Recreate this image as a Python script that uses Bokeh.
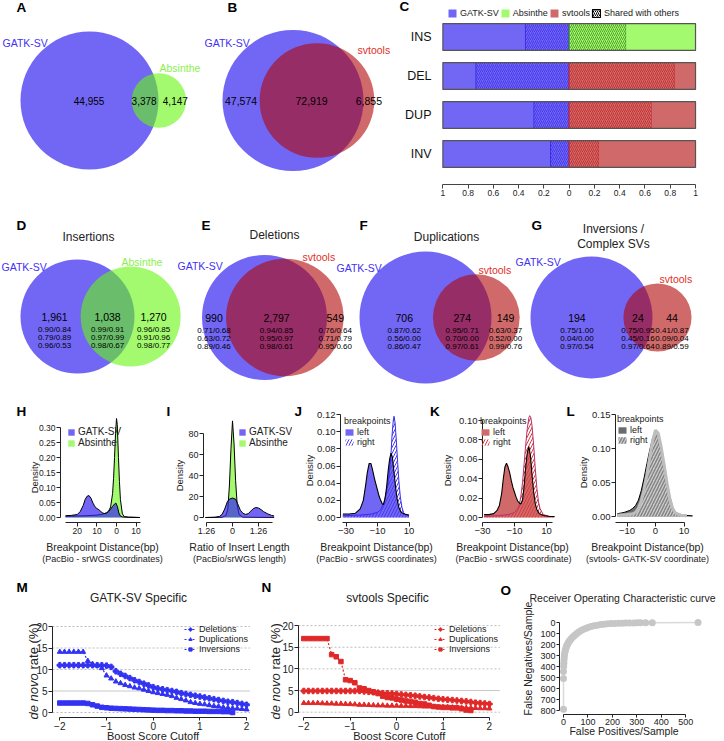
import math
from bokeh.plotting import figure
from bokeh.models import (Range1d, Label, Legend, LegendItem, FixedTicker,
                          CustomJSTickFormatter, NumeralTickFormatter)
from bokeh.layouts import column, row
from bokeh.embed import file_html
from bokeh.resources import INLINE
from bokeh.core.properties import value

FONT = "Liberation Sans"
S = 1.0

# ======================= DATA =======================
# Venn counts: [first caller only, shared, second caller only]
venn_a = [44955, 3378, 4147]      # GATK-SV vs Absinthe
venn_b = [47574, 72919, 6855]     # GATK-SV vs svtools
venn_d = [1961, 1038, 1270]       # Insertions
venn_e = [990, 2797, 549]         # Deletions
venn_f = [706, 274, 149]          # Duplications
venn_g = [194, 24, 44]            # Inversions / Complex SVs
stats_d = [["0.90/0.84", "0.79/0.89", "0.96/0.53"], ["0.99/0.91", "0.97/0.99", "0.98/0.67"], ["0.96/0.85", "0.91/0.96", "0.98/0.77"]]
stats_e = [["0.71/0.68", "0.63/0.72", "0.89/0.46"], ["0.94/0.85", "0.95/0.97", "0.98/0.61"], ["0.76/0.64", "0.71/0.79", "0.95/0.60"]]
stats_f = [["0.87/0.62", "0.56/0.00", "0.86/0.47"], ["0.95/0.71", "0.70/0.00", "0.97/0.61"], ["0.63/0.37", "0.52/0.00", "0.99/0.76"]]
stats_g = [["0.75/1.00", "0.04/0.00", "0.97/0.54"], ["0.75/0.95", "0.45/0.16", "0.97/0.64"], ["0.41/0.87", "0.09/0.04", "0.89/0.59"]]

svtypes = ["INS", "DEL", "DUP", "INV"]
other_caller = ["Absinthe", "svtools", "svtools", "svtools"]
gatk_shared_frac = [0.346, 0.739, 0.280, 0.148]
other_shared_frac = [0.451, 0.836, 0.652, 0.237]
bar_ticks = [-1.0, -0.8, -0.6, -0.4, -0.2, 0.0, 0.2, 0.4, 0.6, 0.8, 1.0]

# H: breakpoint distance densities
h_gatk_x = [-26, -23, -20, -18.5, -17, -16, -15, -14, -13, -12, -11, -10, -9, -8, -7, -6, -5, -4, -3, -2, -1, -0.3, 0.5, 1.2, 2, 3, 6, 12]
h_gatk_y = [0.006, 0.007, 0.010, 0.020, 0.040, 0.060, 0.071, 0.073, 0.064, 0.048, 0.036, 0.030, 0.026, 0.020, 0.015, 0.013, 0.015, 0.020, 0.028, 0.037, 0.045, 0.048, 0.036, 0.015, 0.005, 0.002, 0.001, 0.0]
h_abs_x = [-26, -20, -15, -10, -7, -5, -4, -3, -2, -1.5, -1, -0.5, 0, 0.4, 1, 1.5, 2, 3, 4, 6, 12]
h_abs_y = [0.004, 0.005, 0.006, 0.008, 0.011, 0.016, 0.022, 0.035, 0.08, 0.13, 0.2, 0.28, 0.33, 0.31, 0.2, 0.12, 0.06, 0.012, 0.003, 0.001, 0.0]
# I: ratio of insert length
i_gatk_x = [-1.04, -0.7, -0.5, -0.4, -0.3, -0.2, -0.12, 0, 0.12, 0.2, 0.3, 0.4, 0.5, 0.6, 0.7, 0.8, 0.9, 1.0, 1.1, 1.2, 1.35, 1.5, 1.6]
i_gatk_y = [0, 0.2, 1, 3, 8, 15, 17.5, 18.5, 17.5, 13, 7, 4, 3, 3.5, 6, 8.5, 9.5, 9, 7.5, 5.5, 3.5, 2, 1.5]
i_abs_x = [-1.04, -0.4, -0.25, -0.18, -0.12, -0.06, 0, 0.06, 0.12, 0.18, 0.25, 0.4, 1.6]
i_abs_y = [0, 0.2, 2, 8, 30, 65, 92, 70, 35, 12, 3, 0.3, 0]
i_ticks = [-1, 0, 1]
i_tick_labels = ["1.26", "0", "1.26"]
# J: GATK-SV breakpoints
j_left_x = [-32, -28, -24, -21, -19, -17.5, -16.5, -15.3, -14.2, -13.2, -12, -11, -10, -9, -8, -7, -6.2, -5.2, -4.2, -3.2, -2.3, -1.4, -0.5, 0.5, 1.5, 2.5, 3.5, 5, 7, 10]
j_left_y = [0.004, 0.004, 0.005, 0.010, 0.020, 0.038, 0.052, 0.063, 0.063, 0.056, 0.046, 0.039, 0.032, 0.025, 0.020, 0.016, 0.015, 0.022, 0.036, 0.055, 0.068, 0.075, 0.070, 0.052, 0.035, 0.021, 0.012, 0.006, 0.004, 0.003]
j_right_x = [-32, -20, -14, -10, -8, -6, -4.5, -3.5, -2.5, -1.5, -0.8, 0, 0.5, 1.2, 2, 2.8, 3.6, 4.5, 5.5, 6.5, 8, 10]
j_right_y = [0.002, 0.003, 0.004, 0.006, 0.009, 0.017, 0.028, 0.038, 0.052, 0.072, 0.095, 0.113, 0.118, 0.110, 0.088, 0.064, 0.042, 0.024, 0.012, 0.006, 0.003, 0.002]
# K: svtools breakpoints
k_left_x = [-29, -26, -23, -21, -19.5, -18, -17, -16, -15, -14, -13, -12, -11, -10, -9, -8, -7, -6, -5, -4, -3, -2, -1, 0, 1, 2, 3, 4, 5.5, 8, 12, 15]
k_left_y = [0.003, 0.003, 0.004, 0.007, 0.012, 0.025, 0.040, 0.052, 0.056, 0.052, 0.046, 0.038, 0.031, 0.026, 0.021, 0.017, 0.015, 0.014, 0.018, 0.032, 0.052, 0.067, 0.073, 0.063, 0.043, 0.026, 0.014, 0.008, 0.004, 0.002, 0.001, 0.001]
k_right_x = [-29, -20, -14, -10, -8, -7, -6, -5, -4, -3, -2, -1, -0.5, 0.2, 1, 2, 3, 4, 5, 6, 8, 12, 15]
k_right_y = [0.001, 0.002, 0.003, 0.005, 0.009, 0.013, 0.022, 0.036, 0.055, 0.075, 0.092, 0.103, 0.105, 0.103, 0.094, 0.074, 0.050, 0.030, 0.016, 0.009, 0.003, 0.001, 0.001]
# L: svtools vs GATK-SV breakpoints
l_left_x = [-13.4, -11, -9, -8, -7, -6, -5, -4, -3, -2, -1, 0, 1, 2, 3, 4, 5, 6, 7, 9, 13]
l_left_y = [0.004, 0.006, 0.009, 0.012, 0.016, 0.024, 0.038, 0.057, 0.078, 0.098, 0.115, 0.122, 0.118, 0.100, 0.078, 0.052, 0.030, 0.014, 0.006, 0.002, 0.001]
l_right_x = [-13.4, -10, -8, -7, -6, -5, -4, -3, -2, -1, 0, 1, 2, 3, 4, 5, 6, 7, 9, 11]
l_right_y = [0.002, 0.003, 0.004, 0.006, 0.012, 0.023, 0.040, 0.062, 0.088, 0.112, 0.127, 0.122, 0.102, 0.077, 0.050, 0.027, 0.012, 0.005, 0.002, 0.001]

# M / N: de novo rate vs boost score cutoff
cutoffs = [-2.0, -1.9, -1.8, -1.7, -1.6, -1.5, -1.4, -1.3, -1.2, -1.1, -1.0, -0.9, -0.8, -0.7, -0.6, -0.5, -0.4, -0.3, -0.2, -0.1,
           0.0, 0.1, 0.2, 0.3, 0.4, 0.5, 0.6, 0.7, 0.8, 0.9, 1.0, 1.1, 1.2, 1.3, 1.4, 1.5, 1.6, 1.7, 1.8, 1.9, 2.0]
nan = float("nan")
m_del = [11.0, 11.0, 11.0, 11.0, 11.0, 11.0, 11.0, 11.0, 11.0, 11.0, 10.9, 10.6, 9.6, 9.0, 8.5, 8.0, 7.5, 7.1, 6.7, 6.3,
         5.9, 5.6, 5.4, 5.2, 5.0, 4.8, 4.5, 4.3, 4.1, 3.9, 3.7, 3.5, 3.3, 3.1, 2.9, 2.7, 2.5, 2.4, 2.2, 2.0, 1.8]
m_dup = [14.1, 14.1, 14.1, 14.1, 14.1, 14.1, 12.0, 11.3, 10.9, 10.3, 8.6, 7.9, 7.2, 6.8, 6.4, 6.1, 5.8, 5.6, 5.3, 5.0,
         4.7, 4.5, 4.3, 4.1, 3.8, 3.4, 3.1, 2.8, 2.4, 2.2, 2.0, 1.9, 1.7, 1.5, 1.4, 1.2, 1.1, 1.0, 0.9, 0.8, 0.7]
m_inv = [2.2, 2.2, 2.2, 2.2, 2.2, 2.2, 2.1, 1.8, 1.5, 1.2, 1.1, 1.0, 0.95, 0.9, 0.85, 0.8, 0.75, 0.7, 0.65, 0.6,
         0.55, 0.5, 0.5, 0.45, 0.45, 0.4, 0.4, 0.35, 0.35, 0.3, 0.3, 0.3, 0.25, 0.25, 0.25, 0.2, 0.2, 0.0, nan, nan, nan]
n_del = [4.9, 4.9, 4.9, 4.9, 4.9, 4.9, 4.9, 4.9, 4.9, 4.9, 4.9, 4.9, 4.9, 4.8, 4.7, 4.6, 4.5, 4.4, 4.35, 4.3,
         4.2, 4.1, 4.0, 3.9, 3.8, 3.65, 3.5, 3.4, 3.25, 3.1, 3.0, 2.9, 2.8, 2.7, 2.6, 2.5, 2.35, 2.2, 2.1, 2.0, 1.9]
n_dup = [2.1, 2.1, 2.1, 2.1, 2.05, 2.0, 2.0, 1.95, 1.95, 1.9, 1.85, 1.8, 1.7, 1.7, 1.65, 1.6, 1.55, 1.55, 1.5, 1.5,
         1.5, 1.45, 1.45, 1.4, 1.4, 1.35, 1.3, 1.3, 1.25, 1.2, 1.2, 1.15, 1.1, 1.1, 1.05, 1.0, 1.0, 0.95, 0.9, 0.9, 0.85]
n_inv = [17.0, 17.0, 17.0, 17.0, 17.0, 17.0, 13.3, 12.8, 11.7, 7.5, 7.3, 6.8, 5.6, 5.4, 5.0, 4.7, 4.3, 3.7, 3.4, 3.3,
         3.0, 2.8, 2.6, 2.5, 2.3, 2.0, 1.9, 1.6, 1.3, 1.2, 1.1, 1.1, 1.0, 1.0, 0.8, 0.5, 0.4, nan, nan, nan, nan]
rate_series = ["Deletions", "Duplications", "Inversions"]
rate_yticks = [0, 5, 10, 15, 20]

# O: ROC curve
roc_fp = [0, 0, 0, 0.7, 1.4, 2, 3, 4, 5.5, 7, 9, 11, 13, 15, 18, 21, 25, 29, 34, 40, 46, 53, 61, 70, 80, 90, 100, 112,
          125, 138, 152, 166, 180, 195, 210, 225, 240, 255, 270, 288, 302, 315, 336, 363, 550]
roc_fn = [788, 510, 445, 400, 370, 340, 315, 292, 272, 255, 240, 226, 214, 203, 190, 178, 165, 155, 142, 128, 115, 102, 89, 76,
          64, 54, 45, 36, 29, 24, 19, 15, 12, 9.5, 8, 7, 6, 5, 4.5, 3.5, 3, 2.5, 2, 2, 1]

# ======================= STYLE =======================
BLUE = "#7266F5"; BLUE_DK = "#3B2EEA"; BLUE_TXT = "#4232F2"; BLUE_BASE = "#3624F1"
GREEN = "#A3FA6E"; GREEN_DK = "#3E8E1C"; GREEN_TXT = "#8EEE50"; GREEN_BASE = "#66F70D"
RED = "#D06A6A"; RED_DK = "#C42424"; RED_TXT = "#E0302A"; RED_BASE = "#B10707"
M_BLUE = "#3232F2"; N_RED = "#E02828"


def clean(p):
    p.toolbar_location = None
    p.outline_line_color = None
    p.background_fill_color = "white"
    p.border_fill_color = "white"
    p.grid.visible = False


def txt(p, xs, ys, texts, size, color="black", align="center", style="normal"):
    p.text(x=xs, y=ys, text=texts, text_font=value(FONT), text_font_size=size,
           text_color=color, text_align=align, text_baseline="middle", text_font_style=style)


def lens_area(r1, r2, d):
    if d >= r1 + r2:
        return 0.0
    if d <= abs(r1 - r2):
        return math.pi * min(r1, r2) ** 2
    a = r1 * r1 * math.acos((d * d + r1 * r1 - r2 * r2) / (2 * d * r1))
    b = r2 * r2 * math.acos((d * d + r2 * r2 - r1 * r1) / (2 * d * r2))
    c = 0.5 * math.sqrt((-d + r1 + r2) * (d + r1 - r2) * (d - r1 + r2) * (d + r1 + r2))
    return a + b - c


def solve_d(r1, r2, target):
    lo, hi = abs(r1 - r2) + 1e-9, r1 + r2
    for _ in range(80):
        mid = (lo + hi) / 2
        if lens_area(r1, r2, mid) > target:
            lo = mid
        else:
            hi = mid
    return (lo + hi) / 2


def draw_venn(p, counts, cx, cy, r1, top_fill, stats=None, nudge=(0.0, 0.0, 0.0), size="10.5px"):
    only1, both, only2 = counts
    n1 = only1 + both
    n2 = both + only2
    r2 = r1 * math.sqrt(n2 / n1)
    d = solve_d(r1, r2, both / n1 * math.pi * r1 * r1)
    cx2 = cx + d
    p.circle(x=[cx], y=[cy], radius=r1, fill_color=BLUE, line_color=None)
    p.circle(x=[cx2], y=[cy], radius=r2, fill_color=top_fill, fill_alpha=0.6, line_color=None)
    xs = [((cx - r1) + (cx2 - r2)) / 2, ((cx2 - r2) + (cx + r1)) / 2, ((cx + r1) + (cx2 + r2)) / 2]
    xs = [xs[k] + nudge[k] for k in range(3)]
    txt(p, xs, [cy] * 3, [f"{c:,}" for c in counts], size)
    if stats:
        for k in range(3):
            txt(p, xs, [cy + 13 + 8 * k] * 3, [s[k] for s in stats], "8px")


RH1, RH2, RH3, RH4 = 205, 185, 190, 161

# ---------------- Row 1: A + B (venn) ----------------
AB_W = 398
pab = figure(width=AB_W, height=RH1, x_range=Range1d(0, AB_W), y_range=Range1d(RH1, 0), min_border=0,
             x_axis_location=None, y_axis_location=None, output_backend="svg", toolbar_location=None)
clean(pab)
draw_venn(pab, venn_a, 89, 100, 69, GREEN_BASE, nudge=(13, -1, 3), size="10px")
draw_venn(pab, venn_b, 292.5, 100, 70.5, RED_BASE)
txt(pab, [2, 204], [42, 42], ["GATK-SV", "GATK-SV"], "10.5px", BLUE_TXT, align="left")
txt(pab, [159], [67], ["Absinthe"], "10.5px", GREEN_TXT, align="left")
txt(pab, [357], [49], ["svtools"], "10.5px", RED_TXT, align="left")
txt(pab, [16, 227], [7, 7], ["A", "B"], "13.5px", "black", align="left", style="bold")


# ---------------- helpers for axes panels (frame = whole canvas, fixed axes) ----------------
def make_fig(page_w, page_h, ref_left, row_top, ax_x, ax_y, x0, xppu, y0, yppu, yflip=False):
    ref_right = ref_left + page_w / S
    ref_bottom = row_top + page_h
    xr = Range1d((ref_left - x0) / xppu, (ref_right - x0) / xppu)
    if yflip:
        yr = Range1d((ref_bottom - y0) / yppu, (row_top - y0) / yppu)
        xfix = (ax_y - y0) / yppu
    else:
        yr = Range1d((y0 - ref_bottom) / yppu, (y0 - row_top) / yppu)
        xfix = (y0 - ax_y) / yppu
    p = figure(width=page_w, height=page_h, x_range=xr, y_range=yr, min_border=0,
               output_backend="svg", toolbar_location=None)
    clean(p)
    p.xaxis.fixed_location = xfix
    p.yaxis.fixed_location = (ax_x - x0) / xppu
    sp = dict(ref_left=ref_left, row_top=row_top, h=page_h)
    return p, sp


def flab(p, sp, rx, ry, text, size, color="#222", align="center", style="normal", angle=0.0):
    sx = (rx - sp["ref_left"]) * S
    sy = sp["h"] - (ry - sp["row_top"])
    p.add_layout(Label(x=sx, y=sy, x_units="screen", y_units="screen", text=text,
                       text_font=FONT, text_font_size=size, text_color=color, text_align=align,
                       text_baseline="middle", text_font_style=style, angle=angle))


def legend_place(sp, rx, ry_top, est_h):
    return ((rx - sp["ref_left"]) * S, sp["h"] - (ry_top - sp["row_top"]) - est_h)


def make_legend(items, loc, size, gw, gh, title=None):
    leg = Legend(items=items, location=loc, orientation="vertical", label_text_font=FONT,
                 label_text_font_size=size, label_text_color="#222", glyph_width=gw, glyph_height=gh,
                 label_height=gh, label_standoff=3, spacing=0, padding=0, margin=0,
                 background_fill_alpha=0, border_line_alpha=0)
    if title:
        leg.title = title
        leg.title_text_font = FONT
        leg.title_text_font_size = size
        leg.title_text_font_style = "normal"
        leg.title_text_color = "#222"
        leg.title_standoff = 1
    return leg


def style_axes(p, tick_size):
    for ax in p.axis:
        ax.axis_line_color = "#222"; ax.major_tick_line_color = "#222"; ax.minor_tick_line_color = None
        ax.major_tick_out = 4; ax.major_tick_in = 0; ax.major_label_standoff = 1
        ax.major_label_text_font = FONT; ax.major_label_text_font_size = tick_size
        ax.major_label_text_color = "#222"


# ---------------- Row 1: C (bars) ----------------
C_W = 724 - AB_W
nrow = len(svtypes)
ys = [nrow - i for i in range(nrow)]
pc, spc = make_fig(C_W, RH1, AB_W, 0, 439, 184, 568.7, 126.33, 192.5, 39)
BAR_H = 0.69
r_g_u = pc.hbar(y=ys, left=-1, right=[-f for f in gatk_shared_frac], height=BAR_H, fill_color=BLUE, line_color=None)
pc.hbar(y=ys, left=[-f for f in gatk_shared_frac], right=0, height=BAR_H, fill_color=BLUE,
        hatch_pattern="/", hatch_color=BLUE_DK, hatch_scale=4, hatch_weight=0.8, line_color=BLUE_DK, line_width=1)
other_rend = {}
for name, col, dk in [("Absinthe", GREEN, GREEN_DK), ("svtools", RED, RED_DK)]:
    idx = [i for i, c in enumerate(other_caller) if c == name]
    yy = [ys[i] for i in idx]
    fr = [other_shared_frac[i] for i in idx]
    pc.hbar(y=yy, left=0, right=fr, height=BAR_H, fill_color=col, hatch_pattern="/", hatch_color=dk,
            hatch_scale=4, hatch_weight=0.8, line_color=dk, line_width=1)
    other_rend[name] = pc.hbar(y=yy, left=fr, right=1, height=BAR_H, fill_color=col, line_color=None)
pc.hbar(y=ys, left=-1, right=1, height=BAR_H, fill_color=None, line_color="#555555", line_width=1.2)
# legend key for "Shared with others" (zero-size bars so nothing shows in the plot)
r_shared = pc.hbar(y=ys, left=[0] * nrow, right=[0] * nrow, height=0, fill_color="white", hatch_pattern="/",
                   hatch_color="black", hatch_scale=4, hatch_weight=1, line_color="black", line_width=1.2,
                   line_alpha=1)
leg_c = Legend(items=[LegendItem(label="GATK-SV", renderers=[r_g_u]),
                      LegendItem(label="Absinthe", renderers=[other_rend["Absinthe"]]),
                      LegendItem(label="svtools", renderers=[other_rend["svtools"]]),
                      LegendItem(label="Shared with others", renderers=[r_shared])],
               location=legend_place(spc, 447, 7, 11), orientation="horizontal", label_text_font=FONT,
               label_text_font_size="9px", label_text_color="#222", glyph_width=10, glyph_height=10,
               label_height=10, label_standoff=3, spacing=1, padding=0, margin=0,
               background_fill_alpha=0, border_line_alpha=0)
pc.add_layout(leg_c)
xa = pc.xaxis[0]
xa.ticker = FixedTicker(ticks=bar_ticks)
xa.formatter = CustomJSTickFormatter(code="return Math.abs(tick).toString();")
xa.bounds = (-1, 1)
xa.axis_line_color = "#444"; xa.major_tick_line_color = "#444"; xa.minor_tick_line_color = None
xa.major_tick_out = 4; xa.major_tick_in = 0; xa.major_label_standoff = 1
xa.major_label_text_font = FONT; xa.major_label_text_font_size = "8.5px"; xa.major_label_text_color = "#222"
ya = pc.yaxis[0]
ya.ticker = FixedTicker(ticks=ys)
ya.major_label_overrides = {ys[i]: svtypes[i] for i in range(nrow)}
ya.axis_line_color = None; ya.major_tick_line_color = None; ya.minor_tick_line_color = None
ya.major_label_standoff = 2
ya.major_label_text_font = FONT; ya.major_label_text_font_size = "12.5px"; ya.major_label_text_color = "#111"
flab(pc, spc, 399, 6, "C", "13.5px", "black", align="left", style="bold")

# ---------------- Row 2: D-G (venn) ----------------
p2 = figure(width=724, height=RH2, x_range=Range1d(0, 724), y_range=Range1d(390, 205), min_border=0,
            x_axis_location=None, y_axis_location=None, output_backend="svg", toolbar_location=None)
clean(p2)
draw_venn(p2, venn_d, 77, 316, 57, GREEN_BASE, stats_d, nudge=(4, 0, -4))
draw_venn(p2, venn_e, 264, 317, 62.5, RED_BASE, stats_e)
draw_venn(p2, venn_f, 425, 317, 66, RED_BASE, stats_f, nudge=(8, 0, 0))
draw_venn(p2, venn_g, 591, 317, 61, RED_BASE, stats_g)
txt(p2, [88, 274, 446, 613, 613], [236, 234, 236, 228, 243],
    ["Insertions", "Deletions", "Duplications", "Inversions /", "Complex SVs"], "12px", "#222")
txt(p2, [1, 177, 336, 515], [266, 265, 267, 261], ["GATK-SV"] * 4, "10.5px", BLUE_TXT, align="left")
txt(p2, [121], [261], ["Absinthe"], "10.5px", GREEN_TXT, align="left")
txt(p2, [302, 478, 659], [256, 269, 278], ["svtools"] * 3, "10.5px", RED_TXT, align="left")
txt(p2, [16, 201, 359, 531], [225, 225, 225, 225], ["D", "E", "F", "G"], "13.5px", "black", align="left", style="bold")


def dens_axes(p, sp, xticks, yticks, ybounds, xbounds, yfmt, tick_size, dens_x, dens_y):
    style_axes(p, tick_size)
    p.xaxis.ticker = FixedTicker(ticks=xticks)
    p.yaxis.ticker = FixedTicker(ticks=yticks)
    p.xaxis.bounds = xbounds
    p.yaxis.bounds = ybounds
    if yfmt:
        p.yaxis.formatter = NumeralTickFormatter(format=yfmt)
    flab(p, sp, dens_x, dens_y, "Density", "9.5px", angle=math.pi / 2)


# H
ph, sph = make_fig(165, RH3, 0, 390, 60, 522, 116, 1.96, 517, 300)
r_h_abs = ph.varea(x=h_abs_x, y1=0, y2=h_abs_y, fill_color=GREEN)
ph.line(h_abs_x, h_abs_y, line_color="black", line_width=1)
r_h_g = ph.varea(x=h_gatk_x, y1=0, y2=h_gatk_y, fill_color=BLUE_BASE, fill_alpha=0.7)
ph.line(h_gatk_x, h_gatk_y, line_color="black", line_width=1)
dens_axes(ph, sph, [-20, -10, 0, 10], [0, 0.05, 0.10, 0.15, 0.20, 0.25, 0.30], (0, 0.30), (-26, 12), "0.00", "8.5px", 34, 477)
ph.xaxis.formatter = CustomJSTickFormatter(code="return Math.abs(tick).toString();")
ph.add_layout(make_legend([LegendItem(label="GATK-SV", renderers=[r_h_g]), LegendItem(label="Absinthe", renderers=[r_h_abs])],
                          legend_place(sph, 67, 424, 24), "10px", 8, 8))
flab(ph, sph, 102, 546, "Breakpoint Distance(bp)", "10.5px")
flab(ph, sph, 102, 558, "(PacBio - srWGS coordinates)", "9px")
flab(ph, sph, 16, 411, "H", "13.5px", "black", align="left", style="bold")

# I
pi_, spi = make_fig(127, RH3, 165, 390, 203, 522, 232, 26, 517, 1.05)
r_i_abs = pi_.varea(x=i_abs_x, y1=0, y2=i_abs_y, fill_color=GREEN)
pi_.line(i_abs_x, i_abs_y, line_color="black", line_width=1)
r_i_g = pi_.varea(x=i_gatk_x, y1=0, y2=i_gatk_y, fill_color=BLUE_BASE, fill_alpha=0.7)
pi_.line(i_gatk_x, i_gatk_y, line_color="black", line_width=1)
dens_axes(pi_, spi, i_ticks, [0, 20, 40, 60, 80], (0, 80), (-1, 1.55), None, "9px", 179, 475)
pi_.xaxis.major_label_overrides = {i_ticks[k]: i_tick_labels[k] for k in range(len(i_ticks))}
pi_.add_layout(make_legend([LegendItem(label="GATK-SV", renderers=[r_i_g]), LegendItem(label="Absinthe", renderers=[r_i_abs])],
                           legend_place(spi, 238, 424, 24), "10px", 8, 8))
flab(pi_, spi, 239, 546, "Ratio of Insert Length", "10.5px")
flab(pi_, spi, 239, 558, "(PacBio/srWGS length)", "9px")
flab(pi_, spi, 166, 411, "I", "13.5px", "black", align="left", style="bold")

# J
pj, spj = make_fig(148, RH3, 292, 390, 340, 522, 392.75, 1.575, 517, 858)
r_j_l = pj.varea(x=j_left_x, y1=0, y2=j_left_y, fill_color=BLUE)
r_j_r = pj.varea(x=j_right_x, y1=0, y2=j_right_y, fill_color="white", fill_alpha=0,
                 hatch_pattern="/", hatch_color="#4A3CF0", hatch_scale=6, hatch_weight=1)
pj.line(j_right_x, j_right_y, line_color=BLUE_DK, line_width=1)
pj.line(j_left_x, j_left_y, line_color="black", line_width=1.1)
dens_axes(pj, spj, [-30, -10, 10], [0, 0.02, 0.04, 0.06, 0.08, 0.10, 0.12], (0, 0.12), (-32, 10), "0.00", "9.5px", 309, 470)
pj.add_layout(make_legend([LegendItem(label="left", renderers=[r_j_l]), LegendItem(label="right", renderers=[r_j_r])],
                          legend_place(spj, 344, 412, 35), "9px", 10, 8, title="breakpoints"))
flab(pj, spj, 376, 546, "Breakpoint Distance(bp)", "10.5px")
flab(pj, spj, 376, 558, "(PacBio - srWGS coordinates)", "9px")
flab(pj, spj, 294, 411, "J", "13.5px", "black", align="left", style="bold")
flab(pj, spj, 429.5, 411, "K", "13.5px", "black", align="left", style="bold")

# K
pk, spk = make_fig(135, RH3, 440, 390, 482, 522, 530, 1.6, 517, 970)
r_k_l = pk.varea(x=k_left_x, y1=0, y2=k_left_y, fill_color=RED)
r_k_r = pk.varea(x=k_right_x, y1=0, y2=k_right_y, fill_color="white", fill_alpha=0,
                 hatch_pattern="/", hatch_color="#D83A3A", hatch_scale=6, hatch_weight=1)
pk.line(k_right_x, k_right_y, line_color="#B8306A", line_width=1)
pk.line(k_left_x, k_left_y, line_color="black", line_width=1.1)
dens_axes(pk, spk, [-30, -10, 10], [0, 0.02, 0.04, 0.06, 0.08, 0.10], (0, 0.10), (-30, 14), "0.00", "9.5px", 447, 470)
pk.add_layout(make_legend([LegendItem(label="left", renderers=[r_k_l]), LegendItem(label="right", renderers=[r_k_r])],
                          legend_place(spk, 480, 412, 35), "9px", 10, 8, title="breakpoints"))
flab(pk, spk, 512, 546, "Breakpoint Distance(bp)", "10.5px")
flab(pk, spk, 513, 558, "(PacBio - srWGS coordinate)", "9px")
flab(pk, spk, 566, 411, "L", "13.5px", "black", align="left", style="bold")

# L
pl, spl = make_fig(149, RH3, 575, 390, 615, 522, 655, 2.85, 516, 680)
r_l_l = pl.varea(x=l_left_x, y1=0, y2=l_left_y, fill_color="#6B6B6B")
pl.line(l_left_x, l_left_y, line_color="black", line_width=1)
r_l_r = pl.varea(x=l_right_x, y1=0, y2=l_right_y, fill_color="#CDCDCD",
                 hatch_pattern="/", hatch_color="#858585", hatch_scale=6, hatch_weight=1.5)
pl.line(l_right_x, l_right_y, line_color="#BDBDBD", line_width=3)
dens_axes(pl, spl, [-10, 0, 10], [0, 0.05, 0.10, 0.15], (0, 0.15), (-14, 10), "0.00", "9.5px", 583, 472)
pl.add_layout(make_legend([LegendItem(label="left", renderers=[r_l_l]), LegendItem(label="right", renderers=[r_l_r])],
                          legend_place(spl, 617, 410, 35), "9px", 10, 8, title="breakpoints"))
flab(pl, spl, 647, 546, "Breakpoint Distance(bp)", "10.5px")
flab(pl, spl, 647, 558, "(svtools- GATK-SV coordinate)", "9px")


# ---------------- Row 4 ----------------
def rate_panel(page_w, ref_left, ax_x, x0, xppu, y0, yppu, series, color, title, title_x, ylab_x,
               legend_x, letter, letter_x, xlab_x):
    p, sp = make_fig(page_w, RH4, ref_left, 580, ax_x, 717, x0, xppu, y0, yppu)
    style_axes(p, "10px")
    p.xaxis.ticker = FixedTicker(ticks=[-2, -1, 0, 1, 2])
    p.yaxis.ticker = FixedTicker(ticks=rate_yticks)
    p.xaxis.bounds = (-2, 2)
    p.yaxis.bounds = (0, 20)
    p.xaxis.major_tick_out = 3
    gx0 = (ax_x - x0) / xppu
    gx1 = p.x_range.end
    dotted = [t for t in rate_yticks if t != 5]
    p.segment(x0=[gx0] * len(dotted), x1=[gx1] * len(dotted), y0=dotted, y1=dotted,
              line_color="#BDBDBD", line_width=1, line_dash="2 2")
    p.segment(x0=[gx0], x1=[gx1], y0=[5], y1=[5], line_color="#C8C8C8", line_width=1)
    items = []
    for name, vals, mk, sz in zip(rate_series, series, ["plus", "triangle", "square"], [5.5, 5, 4.5]):
        lr = p.line(cutoffs, vals, line_color=color, line_width=1.2, line_dash="2 2")
        sr = p.scatter(cutoffs, vals, marker=mk, size=sz, fill_color=color, line_color=color)
        items.append(LegendItem(label=name, renderers=[lr, sr]))
    p.add_layout(make_legend(items, legend_place(sp, legend_x, 623, 31), "9px", 12, 8))
    flab(p, sp, title_x, 597, title, "12px")
    flab(p, sp, letter_x, 587, letter, "13.5px", "black", align="left", style="bold")
    flab(p, sp, ylab_x, 719, "de novo", "13px", align="left", style="italic", angle=math.pi / 2)
    flab(p, sp, ylab_x, 669, "rate (%)", "13px", align="left", angle=math.pi / 2)
    flab(p, sp, xlab_x, 735, "Boost Score Cutoff", "11px")
    return p


pm = rate_panel(250, 0, 52, 152.7, 46.7, 712, 4.3, [m_del, m_dup, m_inv], M_BLUE, "GATK-SV Specific",
                138, 33, 184, "M", 16, 152.5)
pn = rate_panel(250, 250, 298, 396.1, 46.4, 711.7, 4.33, [n_del, n_dup, n_inv], N_RED, "svtools Specific",
                387, 275, 434, "N", 261, 398.7)

po, spo = make_fig(224, RH4, 500, 580, 559, 714, 563, 0.2446, 622, 0.11, yflip=True)
style_axes(po, "9px")
po.xaxis.ticker = FixedTicker(ticks=[0, 100, 200, 300, 400, 500])
po.yaxis.ticker = FixedTicker(ticks=[0, 100, 200, 300, 400, 500, 600, 700, 800])
po.xaxis.bounds = (0, 500)
po.yaxis.bounds = (0, 800)
po.xaxis.major_tick_out = 3
po.yaxis.major_tick_out = 3
po.line(roc_fp, roc_fn, line_color="#DADADA", line_width=1.5)
po.scatter(roc_fp, roc_fn, size=7, fill_color="#C6C6C6", line_color=None)
flab(po, spo, 529, 597, "Receiver Operating Characteristic curve", "10.5px", align="left")
flab(po, spo, 500, 590, "O", "13.5px", "black", align="left", style="bold")
flab(po, spo, 623.5, 730, "False Positives/Sample", "10.5px")
flab(po, spo, 527, 658, "False Negatives/Sample", "10.5px", angle=math.pi / 2)

layout = column(row(pab, pc), p2, row(ph, pi_, pj, pk, pl), row(pm, pn, po))
open("out.html", "w").write(file_html(layout, INLINE))
